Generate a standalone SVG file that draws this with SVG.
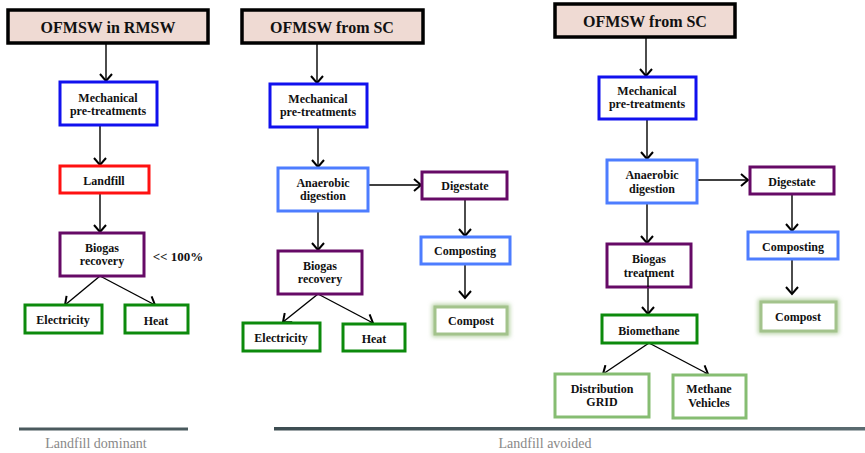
<svg xmlns="http://www.w3.org/2000/svg" width="865" height="453" viewBox="0 0 865 453">
<style>
.t{font-family:'Liberation Serif','DejaVu Serif',serif;font-weight:bold;text-anchor:middle;fill:#111}
.title{font-size:16px}
.n{font-size:12px}
.b{fill:#fff;stroke-width:3}
.tb{fill:#efdad3;stroke:#000;stroke-width:3.5}
.blue{stroke:#1111ee}
.lblue{stroke:#4d7dff}
.red{stroke:#ff1111}
.pur{stroke:#660a66}
.grn{stroke:#0c8a0c}
.lgrn{stroke:#86bd72}
.cmp{stroke:#a3c38c}
.c{stroke:#000;stroke-width:1.4;fill:none}
.a{marker-end:url(#ah)}
.cap{font-family:'Liberation Serif','DejaVu Serif',serif;font-size:14px;fill:#888;text-anchor:middle}
</style>
<defs>
<marker id="ah" markerUnits="userSpaceOnUse" markerWidth="14" markerHeight="14" viewBox="0 0 14 14" refX="12" refY="7" orient="auto">
<path d="M5,1 L12,7 L5,13" fill="none" stroke="#000" stroke-width="2"/>
</marker>
<filter id="glow" x="-30%" y="-50%" width="160%" height="200%">
<feGaussianBlur stdDeviation="2"/>
</filter>
<linearGradient id="lg" x1="0" y1="0" x2="1" y2="0">
<stop offset="0" stop-color="#3d4d52"/>
<stop offset="1" stop-color="#5a6b70"/>
</linearGradient>
</defs>

<g id="connectors">
<line class="c a" x1="106" y1="43" x2="106" y2="81"/>
<line class="c a" x1="100" y1="125" x2="100" y2="165"/>
<line class="c a" x1="100" y1="193" x2="100" y2="232"/>
<line class="c a" x1="100" y1="276" x2="65" y2="305"/>
<line class="c a" x1="100" y1="276" x2="155" y2="305"/>

<line class="c a" x1="317" y1="43" x2="317" y2="83"/>
<line class="c a" x1="318" y1="127" x2="318" y2="167"/>
<line class="c a" x1="368" y1="185" x2="421" y2="185"/>
<line class="c a" x1="465" y1="199" x2="465" y2="236"/>
<line class="c a" x1="465" y1="264" x2="465" y2="298"/>
<line class="c a" x1="318" y1="211" x2="318" y2="250"/>
<line class="c a" x1="318" y1="294" x2="283" y2="322"/>
<line class="c a" x1="318" y1="294" x2="373" y2="323"/>

<line class="c a" x1="646" y1="37" x2="646" y2="76"/>
<line class="c a" x1="647" y1="119" x2="647" y2="159"/>
<line class="c a" x1="697" y1="180" x2="748" y2="180"/>
<line class="c a" x1="792" y1="194" x2="792" y2="231"/>
<line class="c a" x1="792" y1="259" x2="792" y2="294"/>
<line class="c a" x1="647" y1="203" x2="647" y2="243"/>
<line class="c a" x1="648" y1="276" x2="648" y2="314"/>
<line class="c a" x1="649" y1="343" x2="603" y2="374"/>
<line class="c a" x1="649" y1="343" x2="708" y2="374"/>
</g>

<!-- Panel 1 -->
<g id="p1-title"><rect class="tb" x="8" y="10" width="200" height="33"/><text class="t title" x="108" y="33">OFMSW in RMSW</text></g>
<g id="p1-mech"><rect class="b blue" x="60" y="82" width="97" height="43"/><text class="t n" x="108" y="102">Mechanical</text><text class="t n" x="108" y="115">pre-treatments</text></g>
<g id="p1-landfill"><rect class="b red" x="60" y="166" width="89" height="27"/><text class="t n" x="104" y="185">Landfill</text></g>
<g id="p1-biogas"><rect class="b pur" x="60" y="233" width="84" height="43"/><text class="t n" x="102" y="252">Biogas</text><text class="t n" x="102" y="265">recovery</text></g>
<g id="p1-pct"><text class="t" font-size="13" x="178" y="261">&lt;&lt; 100%</text></g>
<g id="p1-elec"><rect class="b grn" x="25" y="305" width="77" height="28"/><text class="t n" x="63" y="324">Electricity</text></g>
<g id="p1-heat"><rect class="b grn" x="125" y="305" width="63" height="28"/><text class="t n" x="156" y="325">Heat</text></g>

<!-- Panel 2 -->
<g id="p2-title"><rect class="tb" x="242" y="10" width="181" height="33"/><text class="t title" x="332" y="33">OFMSW from SC</text></g>
<g id="p2-mech"><rect class="b blue" x="270" y="84" width="97" height="43"/><text class="t n" x="318" y="103">Mechanical</text><text class="t n" x="318" y="116">pre-treatments</text></g>
<g id="p2-ad"><rect class="b lblue" x="278" y="168" width="90" height="43"/><text class="t n" x="323" y="187">Anaerobic</text><text class="t n" x="323" y="200">digestion</text></g>
<g id="p2-digestate"><rect class="b pur" x="422" y="172" width="85" height="27"/><text class="t n" x="465" y="190">Digestate</text></g>
<g id="p2-composting"><rect class="b lblue" x="421" y="237" width="89" height="27"/><text class="t n" x="465" y="255">Composting</text></g>
<g id="p2-compost"><rect x="435" y="307" width="72" height="27" fill="none" stroke="#b8d2a6" stroke-width="6" filter="url(#glow)"/><rect class="b cmp" x="435" y="307" width="72" height="27"/><text class="t n" x="471" y="325">Compost</text></g>
<g id="p2-biogas"><rect class="b pur" x="278" y="251" width="84" height="43"/><text class="t n" x="320" y="270">Biogas</text><text class="t n" x="320" y="283">recovery</text></g>
<g id="p2-elec"><rect class="b grn" x="243" y="323" width="77" height="28"/><text class="t n" x="281" y="342">Electricity</text></g>
<g id="p2-heat"><rect class="b grn" x="343" y="324" width="62" height="27"/><text class="t n" x="374" y="343">Heat</text></g>

<!-- Panel 3 -->
<g id="p3-title"><rect class="tb" x="555" y="4" width="180" height="33"/><text class="t title" x="645" y="27">OFMSW from SC</text></g>
<g id="p3-mech"><rect class="b blue" x="599" y="77" width="97" height="42"/><text class="t n" x="647" y="95">Mechanical</text><text class="t n" x="647" y="108">pre-treatments</text></g>
<g id="p3-ad"><rect class="b lblue" x="607" y="160" width="90" height="43"/><text class="t n" x="652" y="179">Anaerobic</text><text class="t n" x="652" y="193">digestion</text></g>
<g id="p3-digestate"><rect class="b pur" x="750" y="167" width="84" height="27"/><text class="t n" x="792" y="186">Digestate</text></g>
<g id="p3-composting"><rect class="b lblue" x="748" y="232" width="90" height="27"/><text class="t n" x="793" y="251">Composting</text></g>
<g id="p3-compost"><rect x="761" y="302" width="75" height="29" fill="none" stroke="#b8d2a6" stroke-width="6" filter="url(#glow)"/><rect class="b cmp" x="761" y="302" width="75" height="29"/><text class="t n" x="798" y="321">Compost</text></g>
<g id="p3-biogas"><rect class="b pur" x="607" y="244" width="84" height="43"/><text class="t n" x="649" y="263">Biogas</text><text class="t n" x="649" y="277">treatment</text></g>
<line class="c" x1="648" y1="276" x2="648" y2="287"/>
<g id="p3-biomethane"><rect class="b grn" x="602" y="315" width="95" height="28"/><text class="t n" x="649" y="335">Biomethane</text></g>
<g id="p3-grid"><rect class="b lgrn" x="555" y="374" width="94" height="43"/><text class="t n" x="602" y="393">Distribution</text><text class="t n" x="602" y="406">GRID</text></g>
<g id="p3-vehicles"><rect class="b lgrn" x="673" y="375" width="73" height="43"/><text class="t n" x="709" y="393">Methane</text><text class="t n" x="709" y="407">Vehicles</text></g>

<!-- Bottom captions -->
<g id="captions">
<rect x="19" y="427.5" width="169" height="3" fill="#4a5a5e"/>
<rect x="274" y="427" width="591" height="3.5" fill="url(#lg)"/>
<text class="cap" x="96" y="448">Landfill dominant</text>
<text class="cap" x="545" y="448">Landfill avoided</text>
</g>
</svg>
